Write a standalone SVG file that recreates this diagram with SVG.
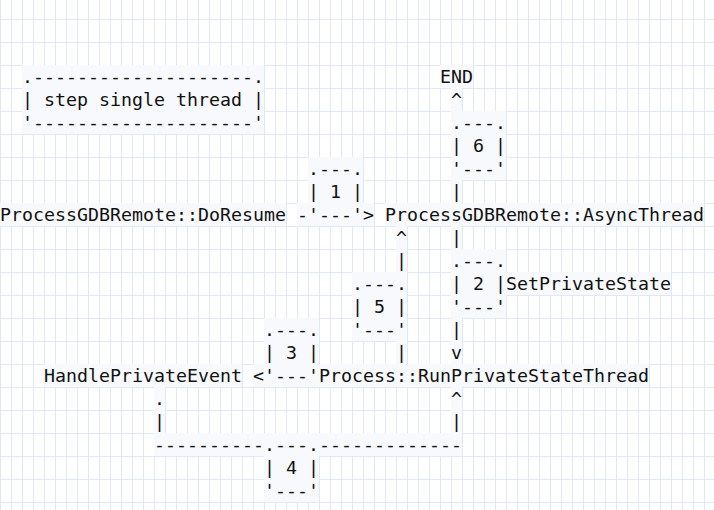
<svg xmlns="http://www.w3.org/2000/svg" width="714" height="510" viewBox="0 0 714 510">
<style>
text{font-family:"DejaVu Sans Mono","Liberation Mono",monospace;font-size:18.27px;fill:#111;white-space:pre}
.bg{fill:#f8f9fc}
</style>
<defs>
<pattern id="grid" patternUnits="userSpaceOnUse" x="0" y="19" width="11" height="23">
<rect width="11" height="23" fill="#fff"/>
<path d="M0.5 0V23M0 0.5H11" stroke="#e0e8f8" stroke-width="1" fill="none"/>
</pattern>
</defs>
<rect width="714" height="510" fill="url(#grid)"/>
<g id="backgrounds">
<rect class="bg" x="22" y="65" width="242" height="69"/>
<rect class="bg" x="440" y="65" width="33" height="23"/>
<rect class="bg" x="451" y="88" width="11" height="23"/>
<rect class="bg" x="451" y="111" width="55" height="69"/>
<rect class="bg" x="308" y="157" width="55" height="69"/>
<rect class="bg" x="451" y="180" width="11" height="23"/>
<rect class="bg" x="0" y="203" width="286" height="23"/>
<rect class="bg" x="297" y="203" width="77" height="23"/>
<rect class="bg" x="385" y="203" width="319" height="23"/>
<rect class="bg" x="396" y="226" width="11" height="46"/>
<rect class="bg" x="451" y="226" width="11" height="23"/>
<rect class="bg" x="451" y="249" width="55" height="69"/>
<rect class="bg" x="352" y="272" width="55" height="69"/>
<rect class="bg" x="506" y="272" width="165" height="23"/>
<rect class="bg" x="264" y="318" width="55" height="69"/>
<rect class="bg" x="451" y="318" width="11" height="46"/>
<rect class="bg" x="396" y="341" width="11" height="23"/>
<rect class="bg" x="44" y="364" width="198" height="23"/>
<rect class="bg" x="253" y="364" width="11" height="23"/>
<rect class="bg" x="319" y="364" width="330" height="23"/>
<rect class="bg" x="154" y="387" width="11" height="46"/>
<rect class="bg" x="451" y="387" width="11" height="46"/>
<rect class="bg" x="154" y="433" width="308" height="23"/>
<rect class="bg" x="264" y="456" width="55" height="46"/>
</g>
<g id="node-step-single-thread">
<text x="22" y="83">.--------------------.</text>
<text x="22" y="106">| step single thread |</text>
<text x="22" y="129">'--------------------'</text>
</g>
<g id="node-end"><text x="440" y="83">END</text></g>
<g id="node-doresume"><text x="0" y="221">ProcessGDBRemote::DoResume</text></g>
<g id="node-asyncthread"><text x="385" y="221">ProcessGDBRemote::AsyncThread</text></g>
<g id="node-runprivatestatethread"><text x="319" y="382">Process::RunPrivateStateThread</text></g>
<g id="node-handleprivateevent"><text x="44" y="382">HandlePrivateEvent</text></g>
<g id="node-setprivatestate"><text x="506" y="290">SetPrivateState</text></g>
<g id="label-1">
<text x="308" y="175">.---.</text>
<text x="308" y="198">| 1 |</text>
<text x="308" y="221">'---'</text>
</g>
<g id="label-2">
<text x="451" y="267">.---.</text>
<text x="451" y="290">| 2 |</text>
<text x="451" y="313">'---'</text>
</g>
<g id="label-3">
<text x="264" y="336">.---.</text>
<text x="264" y="359">| 3 |</text>
<text x="264" y="382">'---'</text>
</g>
<g id="label-4">
<text x="264" y="451">.---.</text>
<text x="264" y="474">| 4 |</text>
<text x="264" y="497">'---'</text>
</g>
<g id="label-5">
<text x="352" y="290">.---.</text>
<text x="352" y="313">| 5 |</text>
<text x="352" y="336">'---'</text>
</g>
<g id="label-6">
<text x="451" y="129">.---.</text>
<text x="451" y="152">| 6 |</text>
<text x="451" y="175">'---'</text>
</g>
<g id="connectors">
<text x="451" y="106">^</text>
<text x="451" y="198">|</text>
<text x="297" y="221">-</text>
<text x="363" y="221">&gt;</text>
<text x="396" y="244">^</text>
<text x="451" y="244">|</text>
<text x="396" y="267">|</text>
<text x="451" y="336">|</text>
<text x="396" y="359">|</text>
<text x="451" y="359">v</text>
<text x="253" y="382">&lt;</text>
<text x="154" y="405">.</text>
<text x="451" y="405">^</text>
<text x="154" y="428">|</text>
<text x="451" y="428">|</text>
<text x="154" y="451">----------</text>
<text x="319" y="451">-------------</text>
</g>
</svg>
